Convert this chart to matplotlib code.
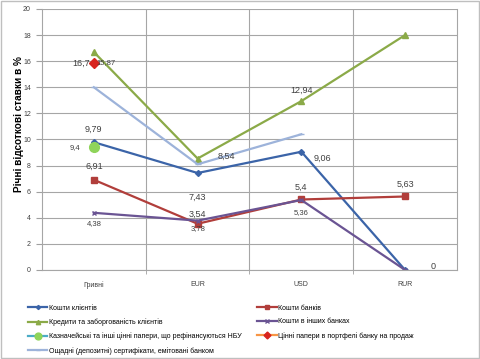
import matplotlib.pyplot as plt

plt.rcParams['font.family'] = ['Liberation Sans', 'DejaVu Sans']

categories = ['Гривні', 'EUR', 'USD', 'RUR']

klienty = [9.79, 7.43, 9.06, 0]
banky = [6.91, 3.54, 5.4, 5.63]
kredyty = [16.7, 8.54, 12.94, 18.0]
inshi_banky = [4.38, 3.78, 5.36, 0]
kaznach = [9.4]
portfel = [15.87]
oshchadni = [14.0, 8.1, 10.4]

names = ['Кошти клієнтів', 'Кошти банків', 'Кредити та заборгованість клієнтів',
         'Кошти в інших банках', 'Казначейські та інші цінні папери, що рефінансуються НБУ',
         'Цінні папери в портфелі банку на продаж',
         'Ощадні (депозитні) сертифікати, емітовані банком']

fig = plt.figure(figsize=(4.8, 3.59), dpi=100)
ax = fig.add_axes([0.0875, 0.248, 0.8645, 0.727])

x = list(range(len(categories)))

h = []
h.append(ax.plot(x, klienty, color='#3B64A8', lw=1.6, marker='D', ms=3)[0])
h.append(ax.plot(x, banky, color='#B13E3B', lw=1.6, marker='s', ms=4.5)[0])
h.append(ax.plot(x, kredyty, color='#8BAA48', lw=1.6, marker='^', ms=4.5)[0])
h.append(ax.plot(x, inshi_banky, color='#6A5493', lw=1.6, marker='x', ms=3.5, mew=1)[0])
h.append(ax.plot(x[:1], kaznach, color='#4BACC6', lw=1.6, marker='o', ms=7,
                 mfc='#8FD45A', mec='#8FD45A')[0])
h.append(ax.plot(x[:1], portfel, color='#F79646', lw=1.6, marker='D', ms=5,
                 mfc='#D8241E', mec='#D8241E')[0])
h.append(ax.plot(x[:3], oshchadni, color='#9DB3DA', lw=1.6, marker='_', ms=4)[0])

# data labels
fs = 6.5
lab = dict(fontsize=fs, color='#404040', ha='center', va='center')
small = dict(fontsize=5.5, color='#404040', ha='center', va='center')
ax.text(0, klienty[0] + 1.0, '9,79', **lab)
ax.text(1, klienty[1] - 1.9, '7,43', **lab)
ax.text(2.2, klienty[2] - 0.5, '9,06', **lab)
ax.text(3.27, klienty[3] + 0.3, '0', **lab)
ax.text(0, banky[0] + 1.0, '6,91', **lab)
ax.text(1, banky[1] + 0.7, '3,54', **lab)
ax.text(2, banky[2] + 0.9, '5,4', **lab)
ax.text(3, banky[3] + 0.9, '5,63', **lab)
ax.text(-0.12, kredyty[0] - 0.85, '16,7', **lab)
ax.text(1.28, kredyty[1] + 0.2, '8,54', **lab)
ax.text(2.0, kredyty[2] + 0.85, '12,94', **lab)
ax.text(0, inshi_banky[0] - 0.85, '4,38', **small)
ax.text(1, inshi_banky[1] - 0.6, '3,78', **small)
ax.text(2, inshi_banky[2] - 0.95, '5,36', **small)
ax.text(-0.18, kaznach[0], '9,4', **small)
ax.text(0.12, portfel[0], '15,87', **small)

ax.set_xlim(-0.5, 3.5)
ax.set_ylim(0, 20)
ax.set_yticks(range(0, 21, 2))
ax.set_xticks(x)
ax.set_xticklabels(categories)
ax.set_xticks([0.5, 1.5, 2.5], minor=True)
ax.tick_params(axis='both', labelsize=5, colors='#404040', length=0, pad=8)
ax.tick_params(axis='x', which='minor', length=3, color='#A0A0A0')
ax.tick_params(axis='y', length=4, color='#A0A0A0', pad=4)
ax.grid(axis='y', color='#A6A6A6', lw=0.8)
ax.grid(axis='x', which='minor', color='#A6A6A6', lw=0.8)
ax.set_axisbelow(True)
ax.spines['top'].set_visible(False)
for s in ['left', 'bottom', 'right']:
    ax.spines[s].set_color('#A6A6A6')

fig.text(19 / 480, 1 - 124 / 359, 'Річні відсоткові ставки в %', rotation=90,
         fontsize=7.2, fontweight='bold', ha='center', va='center')

# row-wise order for two-column legend
order = [0, 2, 4, 6, 1, 3, 5]
fig.legend([h[i] for i in order], [names[i] for i in order], ncol=2,
           loc='lower left', bbox_to_anchor=(0.045, -0.006), frameon=False,
           fontsize=5.0, handlelength=2.8, columnspacing=2.3,
           labelspacing=0.95, handletextpad=0.2, markerscale=0.7)

fig.patches.append(plt.Rectangle((0.002, 0.002), 0.996, 0.996, transform=fig.transFigure,
                                 fill=False, ec='#BFBFBF', lw=1))

fig.savefig('out.png', dpi=100)
